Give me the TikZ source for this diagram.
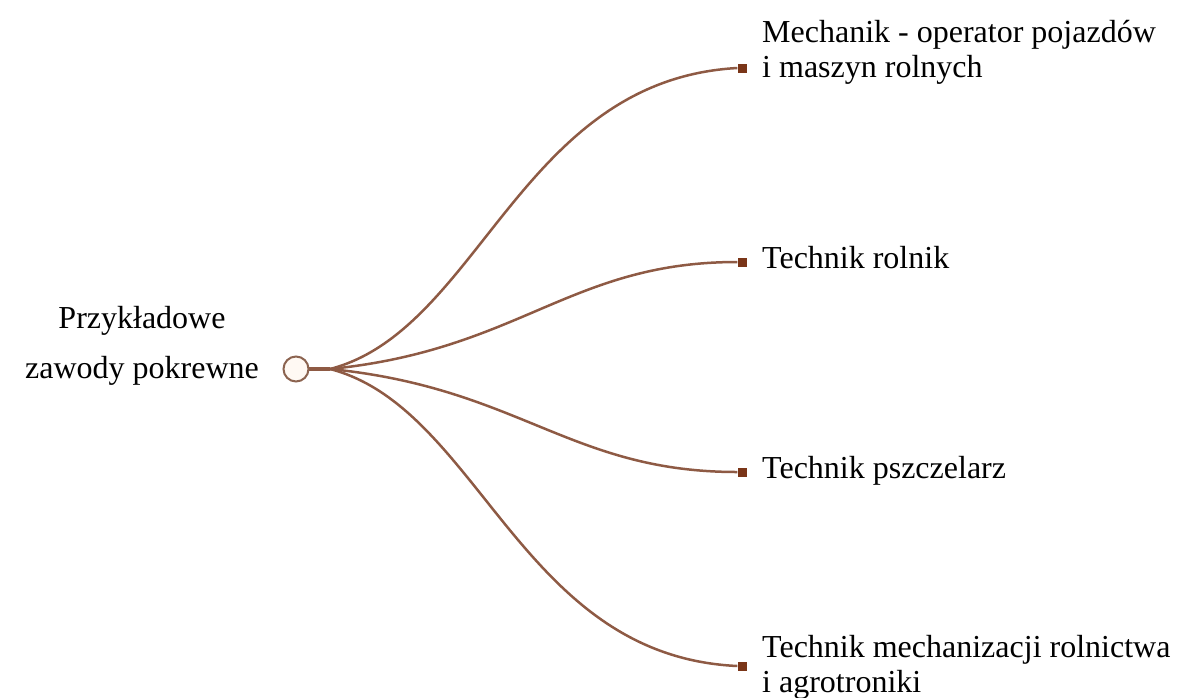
\documentclass[tikz,border=0pt]{standalone}
\usepackage{fontspec}
\setmainfont{Liberation Serif}
\definecolor{linebrown}{HTML}{8E5A44}
\definecolor{sqbrown}{HTML}{7A3518}
\definecolor{ringc}{HTML}{8C6450}
\definecolor{ringfill}{HTML}{FFF9F3}
\begin{document}
\begin{tikzpicture}[x=1pt,y=-1pt,
  conn/.style={draw=linebrown,line width=2.5pt},
  endsq/.style={fill=sqbrown,minimum size=9pt,inner sep=0pt},
  lbl/.style={font=\fontsize{32}{35}\selectfont,anchor=base west,align=left,inner sep=0pt,text=black}]
\useasboundingbox (0,0) rectangle (1199,697);
\coordinate (stem) at (330,369);
\draw[linebrown,line width=4pt] (306,369) -- (stem);
\node[endsq] (e1) at (742,68) {};
\node[endsq] (e2) at (742,262) {};
\node[endsq] (e3) at (742,472) {};
\node[endsq] (e4) at (742,666) {};
\draw[conn] (stem) .. controls (480,330) and (520,80) .. (e1.west);
\draw[conn] (stem) .. controls (520,350) and (570,262) .. (e2.west);
\draw[conn] (stem) .. controls (520,388) and (570,472) .. (e3.west);
\draw[conn] (stem) .. controls (480,408) and (520,656) .. (e4.west);
\node[circle,draw=ringc,line width=2pt,fill=ringfill,minimum size=25pt,inner sep=0pt] (root) at (296,369) {};
\node[lbl,align=center,font=\fontsize{32}{50}\selectfont,anchor=base] (rt) at (142,378) {Przykładowe\\zawody pokrewne};
\node[lbl] (t1) at (762,77) {Mechanik - operator pojazdów\\i maszyn rolnych};
\node[lbl] (t2) at (762,268) {Technik rolnik};
\node[lbl] (t3) at (762,478) {Technik pszczelarz};
\node[lbl] (t4) at (762,692) {Technik mechanizacji rolnictwa\\i agrotroniki};
\end{tikzpicture}
\end{document}
